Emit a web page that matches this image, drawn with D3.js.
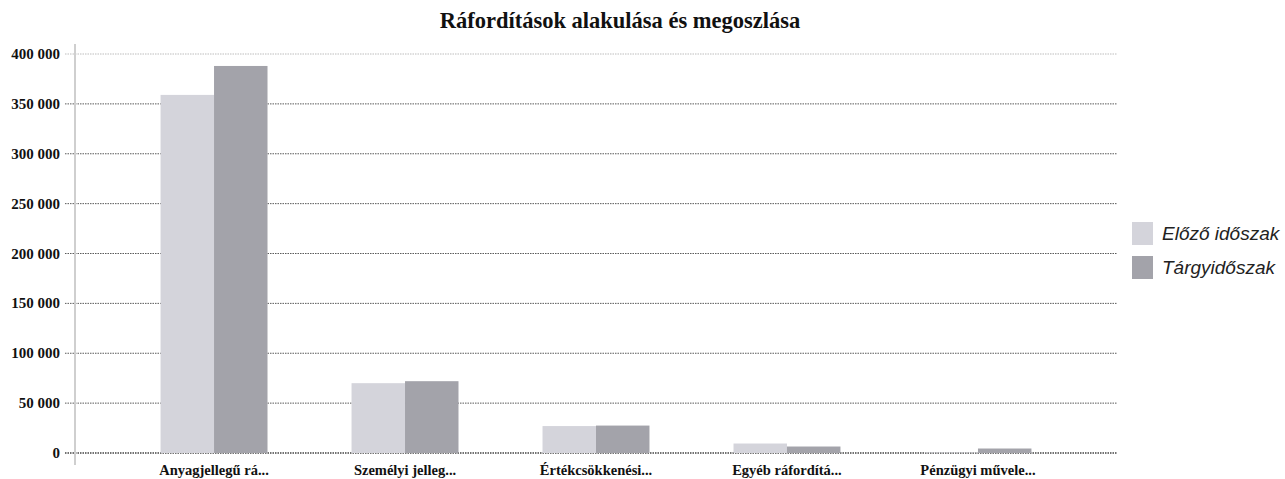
<!DOCTYPE html>
<html>
<head>
<meta charset="utf-8">
<script src="https://cdn.jsdelivr.net/npm/d3@7"></script>
<style>
	body { margin: 0; background: #fff; }
	svg { display: block; }
</style>
</head>
<body>
<div class="c-svg"></div>
<script>
//DATA
//-------------------------------------------------------------------------
const categories = ["Anyagjellegű rá...", "Személyi jelleg...", "Értékcsökkenési...", "Egyéb ráfordítá...", "Pénzügyi művele..."];
const seriesNames = ["Előző időszak", "Tárgyidőszak"];
const previous = [359000, 70000, 27000, 9500, 500];
const current = [388000, 72000, 27500, 6500, 4500];
const yTicks = [0, 50000, 100000, 150000, 200000, 250000, 300000, 350000, 400000];
const colors = ["#d4d4db", "#a3a3aa"];

//opts for svg
const opts = {
	width: 1285,
	height: 479,
	left: 75,
	right: 1117,
	top: 54,
	bottom: 453
};

const svg = d3.select(".c-svg")
	.append("svg")
	.attr("width", opts.width)
	.attr("height", opts.height);

//SCALES
//-------------------------------------------------------------------------
const x = d3.scaleBand()
	.domain(categories)
	.range([opts.left, opts.right])
	.paddingInner(0.44)
	.paddingOuter(0.448);

const x1 = d3.scaleBand()
	.domain(seriesNames)
	.range([0, x.bandwidth()]);

const y = d3.scaleLinear()
	.domain([0, 400000])
	.range([opts.bottom, opts.top]);

const fmt = v => d3.format(",")(v).replace(/,/g, " ");

//GRID
//-------------------------------------------------------------------------
svg.append("g")
	.selectAll("line")
	.data(yTicks)
	.join("line")
	.attr("x1", opts.left - 10)
	.attr("x2", opts.right)
	.attr("y1", d => y(d))
	.attr("y2", d => y(d))
	.style("stroke", d => d === 400000 ? "#bdbdbd" : (d === 0 ? "#444" : "#5a5a5a"))
	.style("stroke-width", d => d === 0 ? 1.3 : 1)
	.style("stroke-dasharray", "1.5 1");

//vertical axis line
svg.append("line")
	.attr("x1", opts.left)
	.attr("x2", opts.left)
	.attr("y1", opts.top - 10)
	.attr("y2", opts.bottom + 12)
	.style("stroke", "#cfcfcf")
	.style("stroke-width", 2);

//y labels
svg.append("g")
	.selectAll("text")
	.data(yTicks)
	.join("text")
	.attr("x", 60)
	.attr("y", d => y(d) + 5)
	.attr("text-anchor", "end")
	.style("font-family", "'Liberation Serif', 'DejaVu Serif', serif")
	.style("font-weight", "bold")
	.style("font-size", "15px")
	.style("fill", "#111")
	.text(fmt);

//BARS
//-------------------------------------------------------------------------
const rows = categories.map((c, i) => ({cat: c, values: [previous[i], current[i]]}));

svg.append("g")
	.selectAll("g")
	.data(rows)
	.join("g")
	.attr("transform", d => `translate(${x(d.cat)},0)`)
	.selectAll("rect")
	.data(d => d.values.map((v, j) => ({name: seriesNames[j], value: v, j: j})))
	.join("rect")
	.attr("x", d => x1(d.name))
	.attr("width", x1.bandwidth())
	.attr("y", d => y(d.value))
	.attr("height", d => y(0) - y(d.value))
	.style("fill", d => colors[d.j]);

//x labels
svg.append("g")
	.selectAll("text")
	.data(categories)
	.join("text")
	.attr("x", d => x(d) + x.bandwidth() / 2)
	.attr("y", 475)
	.attr("text-anchor", "middle")
	.style("font-family", "'Liberation Serif', 'DejaVu Serif', serif")
	.style("font-weight", "bold")
	.style("font-size", "14.5px")
	.style("fill", "#111")
	.text(d => d);

//TITLE
//-------------------------------------------------------------------------
svg.append("text")
	.attr("x", 620)
	.attr("y", 28)
	.attr("text-anchor", "middle")
	.style("font-family", "'Liberation Serif', 'DejaVu Serif', serif")
	.style("font-weight", "bold")
	.style("font-size", "22.5px")
	.style("fill", "#111")
	.text("Ráfordítások alakulása és megoszlása");

//LEGEND
//-------------------------------------------------------------------------
const legend = svg.append("g")
	.selectAll("g")
	.data(seriesNames)
	.join("g")
	.attr("transform", (d, i) => `translate(1132,${222 + i * 34})`);

legend.append("rect")
	.attr("width", 21)
	.attr("height", 23)
	.style("fill", (d, i) => colors[i]);

legend.append("text")
	.attr("x", 30)
	.attr("y", 18)
	.style("font-family", "'Liberation Sans', Arial, sans-serif")
	.style("font-style", "italic")
	.style("font-size", "19px")
	.style("fill", "#222")
	.text(d => d);
</script>
</body>
</html>
